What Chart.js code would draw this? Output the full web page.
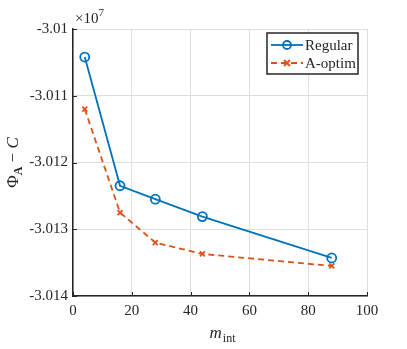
<!DOCTYPE html>
<html lang="en">
<head>
<meta charset="UTF-8">
<title>Phi_A - C vs m_int</title>
<script src="https://cdn.jsdelivr.net/npm/chart.js@4.4.0/dist/chart.umd.min.js"></script>
<style>
    html, body { margin: 0; padding: 0; background: #fff; }
    #wrap { position: relative; width: 407px; height: 349px; }
</style>
</head>
<body>
<div id="wrap"><canvas id="chart" width="407" height="349"></canvas></div>
<script>
// values in units of 1e7
const mInt = [4, 16, 28, 44, 88];
const regular = [-3.01042, -3.012348, -3.01255, -3.01281, -3.01343];
const aOptim = [-3.0112, -3.01275, -3.0132, -3.01337, -3.01355];
const seriesNames = ['Regular', 'A-optim'];
const xTicks = [0, 20, 40, 60, 80, 100];
const yTicks = [-3.014, -3.013, -3.012, -3.011, -3.01];

const BLUE = '#0072BD';
const ORANGE = '#D95319';
const AXIS = '#262626';
const FONT = '"Liberation Serif", "DejaVu Serif", serif';

function drawMarker(ctx, style, cx, cy, r, color) {
    ctx.save();
    ctx.setLineDash([]);
    ctx.strokeStyle = color;
    ctx.lineWidth = 1.8;
    ctx.beginPath();
    if (style === 'circle') {
        ctx.arc(cx, cy, r, 0, Math.PI * 2);
    } else {
        ctx.moveTo(cx - r, cy - r); ctx.lineTo(cx + r, cy + r);
        ctx.moveTo(cx + r, cy - r); ctx.lineTo(cx - r, cy + r);
    }
    ctx.stroke();
    ctx.restore();
}

const decor = {
    id: 'decor',
    afterDraw(chart) {
        const ctx = chart.ctx;
        const a = chart.chartArea;
        const xs = chart.scales.x, ys = chart.scales.y;
        ctx.save();

        // inward tick marks
        ctx.strokeStyle = AXIS;
        ctx.lineWidth = 1;
        ctx.beginPath();
        xTicks.forEach(v => {
            const px = Math.round(xs.getPixelForValue(v)) + 0.5;
            ctx.moveTo(px, a.bottom); ctx.lineTo(px, a.bottom - 4);
        });
        yTicks.forEach(v => {
            const py = Math.round(ys.getPixelForValue(v)) + 0.5;
            ctx.moveTo(a.left, py); ctx.lineTo(a.left + 4, py);
        });
        ctx.stroke();

        ctx.fillStyle = AXIS;
        // exponent label
        ctx.font = '15px ' + FONT;
        ctx.textAlign = 'left';
        ctx.textBaseline = 'alphabetic';
        ctx.fillText('\u00d710', a.left + 2, a.top - 6);
        const w10 = ctx.measureText('\u00d710').width;
        ctx.font = '11px ' + FONT;
        ctx.fillText('7', a.left + 2 + w10, a.top - 13);

        // x title: m_int
        const xc = (a.left + a.right) / 2 + 2;
        ctx.font = 'italic 17px ' + FONT;
        const wm = ctx.measureText('m').width;
        ctx.font = '12px ' + FONT;
        const wi = ctx.measureText('int').width;
        const x0 = xc - (wm + wi) / 2;
        ctx.font = 'italic 17px ' + FONT;
        ctx.fillText('m', x0, 338);
        ctx.font = '12px ' + FONT;
        ctx.fillText('int', x0 + wm + 1, 342);

        // y title: Phi_A - C
        ctx.save();
        ctx.translate(13, (a.top + a.bottom) / 2);
        ctx.rotate(-Math.PI / 2);
        const parts = [
            {t: '\u03a6', f: '17px ' + FONT, dy: 0},
            {t: 'A', f: 'bold 12px ' + FONT, dy: 4},
            {t: ' \u2212 ', f: '17px ' + FONT, dy: 0},
            {t: 'C', f: 'italic 17px ' + FONT, dy: 0}
        ];
        let tw = 0;
        parts.forEach(p => { ctx.font = p.f; p.w = ctx.measureText(p.t).width; tw += p.w; });
        let cx = -tw / 2;
        parts.forEach(p => { ctx.font = p.f; ctx.fillText(p.t, cx, 5 + p.dy); cx += p.w; });
        ctx.restore();

        // legend box
        const lx = 267, ly = 33, lw = 91, lh = 41;
        ctx.fillStyle = '#fff';
        ctx.fillRect(lx, ly, lw, lh);
        ctx.strokeStyle = AXIS;
        ctx.lineWidth = 1.5;
        ctx.strokeRect(lx, ly, lw, lh);
        const rows = [
            {name: seriesNames[0], color: BLUE, dash: [], marker: 'circle', r: 4},
            {name: seriesNames[1], color: ORANGE, dash: [6, 4], marker: 'cross', r: 3},
        ];
        rows.forEach((row, i) => {
            const yy = ly + 12 + i * 18;
            ctx.save();
            ctx.strokeStyle = row.color;
            ctx.lineWidth = 1.8;
            ctx.setLineDash(row.dash);
            ctx.beginPath();
            ctx.moveTo(lx + 4, yy); ctx.lineTo(lx + 36, yy);
            ctx.stroke();
            ctx.restore();
            drawMarker(ctx, row.marker, lx + 20, yy, row.r, row.color);
            ctx.fillStyle = AXIS;
            ctx.font = '15px ' + FONT;
            ctx.textBaseline = 'middle';
            ctx.fillText(row.name, lx + 38, yy + 1);
        });
        ctx.restore();
    }
};

const ctx = document.getElementById('chart').getContext('2d');
new Chart(ctx, {
    type: 'line',
    data: {
        datasets: [
            {
                label: seriesNames[0],
                data: mInt.map((m, i) => ({x: m, y: regular[i]})),
                borderColor: BLUE,
                borderWidth: 1.8,
                pointStyle: 'circle',
                pointRadius: 4.5,
                pointBorderWidth: 1.8,
                pointBorderColor: BLUE,
                pointBackgroundColor: 'rgba(0,0,0,0)',
                tension: 0
            },
            {
                label: seriesNames[1],
                data: mInt.map((m, i) => ({x: m, y: aOptim[i]})),
                borderColor: ORANGE,
                borderWidth: 1.8,
                borderDash: [6, 4],
                pointStyle: 'crossRot',
                pointRadius: 3.5,
                pointBorderWidth: 1.8,
                pointBorderColor: ORANGE,
                pointBackgroundColor: ORANGE,
                tension: 0
            }
        ]
    },
    options: {
        responsive: false,
        animation: false,
        events: [],
        layout: {padding: {left: 18, right: 40, top: 29, bottom: 33}},
        plugins: {legend: {display: false}, tooltip: {enabled: false}},
        scales: {
            x: {
                type: 'linear',
                min: 0, max: 100,
                afterBuildTicks: s => { s.ticks = xTicks.map(v => ({value: v})); },
                afterFit: s => { s.height = 20; },
                grid: {color: '#dedede', lineWidth: 1, drawTicks: false},
                border: {color: AXIS, width: 1.5},
                ticks: {
                    color: AXIS, padding: 6,
                    font: {family: FONT, size: 15},
                    maxRotation: 0
                }
            },
            y: {
                type: 'linear',
                min: -3.014, max: -3.01,
                afterBuildTicks: s => { s.ticks = yTicks.map(v => ({value: v})); },
                afterFit: s => { s.width = 55; },
                grid: {color: '#dedede', lineWidth: 1, drawTicks: false},
                border: {color: AXIS, width: 1.5},
                ticks: {
                    color: AXIS, padding: 5,
                    font: {family: FONT, size: 15},
                    callback: v => String(Number(v.toFixed(3)))
                }
            }
        }
    },
    plugins: [decor]
});
</script>
</body>
</html>
